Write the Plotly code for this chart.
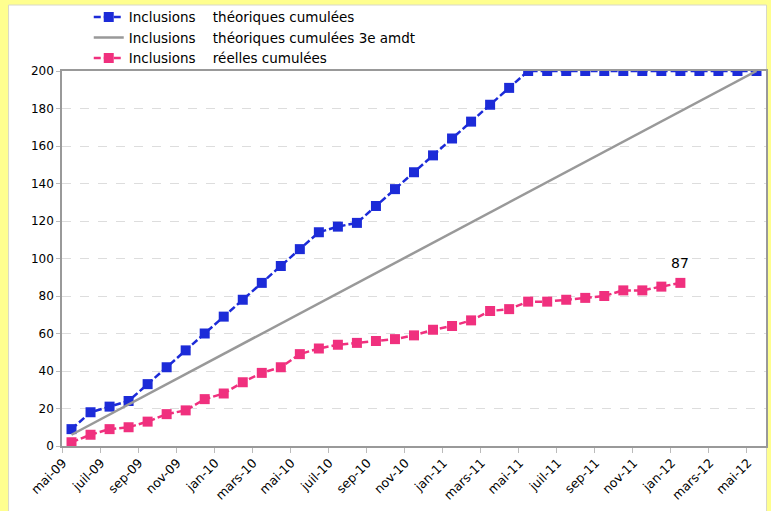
import plotly.graph_objects as go

months = ["mai-09", "juin-09", "juil-09", "août-09", "sep-09", "oct-09", "nov-09", "déc-09",
          "jan-10", "févr-10", "mars-10", "avr-10", "mai-10", "juin-10", "juil-10", "août-10",
          "sep-10", "oct-10", "nov-10", "déc-10", "jan-11", "févr-11", "mars-11", "avr-11",
          "mai-11", "juin-11", "juil-11", "août-11", "sep-11", "oct-11", "nov-11", "déc-11",
          "jan-12", "févr-12", "mars-12", "avr-12", "mai-12"]

theoriques = [9, 18, 21, 24, 33, 42, 51, 60, 69, 78, 87, 96, 105, 114, 117, 119, 128, 137,
              146, 155, 164, 173, 182, 191, 200, 200, 200, 200, 200, 200, 200, 200, 200,
              200, 200, 200, 200]
amdt_months = ["mai-09", "mai-12"]
amdt_values = [6, 200]
reelles = [2, 6, 9, 10, 13, 17, 19, 25, 28, 34, 39, 42, 49, 52, 54, 55, 56, 57, 59, 62,
           64, 67, 72, 73, 77, 77, 78, 79, 80, 83, 83, 85, 87]

idx = {m: i for i, m in enumerate(months)}
x_all = list(range(len(months)))

BLUE = "#1C2BD8"
PINK = "#F0307E"
GREY = "#999999"
YELLOW = "#FFFF8F"
FONT = "DejaVu Sans"

fig = go.Figure()
fig.add_trace(go.Scatter(
    x=x_all[:len(theoriques)], y=theoriques, mode="lines+markers",
    name="Inclusions\u00a0\u00a0\u00a0\u00a0théoriques cumulées",
    line=dict(color=BLUE, width=2.5, dash="7px,3px"),
    marker=dict(symbol="square", size=10, color=BLUE, line=dict(width=0)),
))
fig.add_trace(go.Scatter(
    x=[idx[m] for m in amdt_months], y=amdt_values, mode="lines",
    name="Inclusions\u00a0\u00a0\u00a0\u00a0théoriques cumulées 3e amdt",
    line=dict(color=GREY, width=2.5),
))
fig.add_trace(go.Scatter(
    x=x_all[:len(reelles)], y=reelles, mode="lines+markers",
    name="Inclusions\u00a0\u00a0\u00a0\u00a0réelles cumulées",
    line=dict(color=PINK, width=2.5, dash="7px,3px"),
    marker=dict(symbol="square", size=10, color=PINK, line=dict(width=0)),
))

fig.add_annotation(x=len(reelles) - 1, y=reelles[-1], text=str(reelles[-1]),
                   showarrow=False, yshift=20, font=dict(size=14, color="black", family=FONT))

# white chart area on yellow background
fig.add_shape(type="rect", xref="paper", yref="paper",
              x0=-0.0759, x1=1.0007, y0=-0.2, y1=1.176,
              fillcolor="white", line=dict(color="#d8d8c8", width=1), layer="below")

label_pos = [i - 0.45 for i in x_all[::2]]

fig.update_layout(
    width=771, height=511,
    margin=dict(l=61.5, r=4.5, t=71, b=65, autoexpand=False),
    paper_bgcolor=YELLOW, plot_bgcolor="white",
    font=dict(family=FONT, size=12, color="black"),
    showlegend=True,
    legend=dict(x=0.038, y=1.185, xanchor="left", yanchor="top",
                bgcolor="rgba(0,0,0,0)", font=dict(size=13.5, family=FONT),
                tracegroupgap=0, itemwidth=30),
    xaxis=dict(
        range=[-0.5, len(months) - 0.5], automargin=False,
        tickmode="array",
        tickvals=label_pos, ticktext=months[::2],
        tickangle=-45, ticks="", showgrid=False, zeroline=False,
        showline=True, linecolor=GREY, linewidth=1.5, mirror=True,
        tickfont=dict(size=12.5, family=FONT), ticklabelstandoff=3,
        minor=dict(tick0=-0.5, dtick=2, ticks="outside", ticklen=5,
                   tickcolor="#bbbbbb", showgrid=False),
    ),
    yaxis=dict(
        range=[0, 200], dtick=20, tick0=0, automargin=False,
        ticks="outside", ticklen=4, tickcolor="#bbbbbb",
        showgrid=True, gridcolor="#dddddd", griddash="dash", gridwidth=1,
        zeroline=False, showline=True, linecolor=GREY, linewidth=1.5, mirror=True,
        tickfont=dict(size=12, family=FONT),
    ),
)

fig.write_html("out.html", config={"displayModeBar": False},
               post_script="document.body.style.margin='0';")
